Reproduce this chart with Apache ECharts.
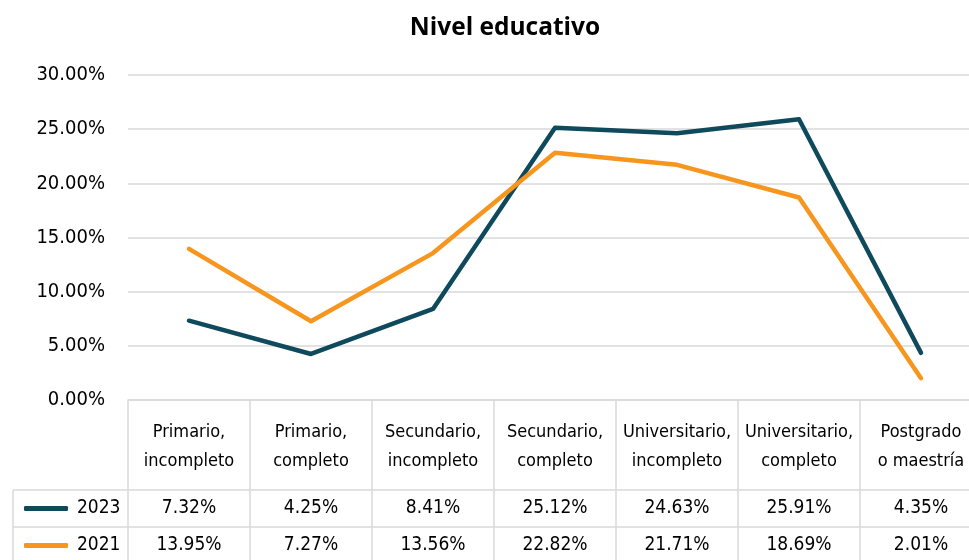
<!DOCTYPE html>
<html><head><meta charset="utf-8">
<script src="https://cdn.jsdelivr.net/npm/echarts@6/dist/echarts.min.js"></script>
<style>html,body{margin:0;padding:0;background:#fff}#c{width:969px;height:560px}</style>
</head><body><div id="c"></div>
<script>
const categories = ["Primario,\nincompleto","Primario,\ncompleto","Secundario,\nincompleto","Secundario,\ncompleto","Universitario,\nincompleto","Universitario,\ncompleto","Postgrado\no maestría"];
const seriesNames = ["2023","2021"];
const values2023 = [7.32,4.25,8.41,25.12,24.63,25.91,4.35];
const values2021 = [13.95,7.27,13.56,22.82,21.71,18.69,2.01];
const yTicks = [0,5,10,15,20,25,30];

const FONT = '"DejaVu Sans Condensed", "Liberation Sans Narrow", sans-serif';
const C23 = '#0E4A5C', C21 = '#F7961E', GRID = '#D9D9D9';
const fmt = v => v.toFixed(2) + '%';

const chart = echarts.init(document.getElementById('c'));
const GL = 128, GT = 75, GB = 400, GR = 982;
function valueAxis(margin, arr){
  return {type:'category', data:categories, gridIndex:0, position:'bottom',
    axisLine:{show:false}, axisTick:{show:false},
    axisLabel:{margin:margin, verticalAlign:'middle', fontFamily:FONT, fontSize:19, color:'#000',
      formatter:(v,i)=>fmt(arr[i])}};
}
function legendAt(i, top){
  return {orient:'vertical', left:19, top:top, itemWidth:44, itemHeight:5, icon:'roundRect',
    data:[seriesNames[i]], textStyle:{fontFamily:FONT, fontSize:19, color:'#000', padding:[0,0,0,4]}};
}
chart.setOption({
  animation:false,
  title:{text:'Nivel educativo', left:505, top:11, textAlign:'center',
    textStyle:{fontFamily:'"Open Sans", sans-serif', fontWeight:'bold', fontSize:24.5, color:'#000'}},
  grid:{left:GL, top:GT, width:GR-GL, height:GB-GT, outerBoundsMode:'none', containLabel:false},
  legend:[legendAt(0, 494), legendAt(1, 531)],
  xAxis:[
    {type:'category', data:categories, boundaryGap:true,
      axisLine:{show:true, lineStyle:{color:GRID, width:1.5}},
      axisTick:{show:true, length:160, lineStyle:{color:GRID, width:1.5}},
      axisLabel:{margin:47, verticalAlign:'middle', lineHeight:29, fontFamily:FONT, fontSize:18, color:'#000', interval:0}},
    valueAxis(108, values2023),
    valueAxis(145, values2021)
  ],
  yAxis:{type:'value', min:yTicks[0], max:yTicks[yTicks.length-1], interval:5,
    axisLine:{show:false}, axisTick:{show:false},
    splitLine:{lineStyle:{color:GRID, width:1.5}},
    axisLabel:{margin:23, fontFamily:FONT, fontSize:20, color:'#000', formatter:v=>v.toFixed(2)+'%'}},
  graphic:[
    {type:'line', shape:{x1:13, y1:490, x2:GR, y2:490}, style:{stroke:GRID, lineWidth:1.5}},
    {type:'line', shape:{x1:13, y1:527, x2:GR, y2:527}, style:{stroke:GRID, lineWidth:1.5}},
    {type:'line', shape:{x1:13, y1:490, x2:13, y2:560}, style:{stroke:GRID, lineWidth:1.5}}
  ],
  series:[
    {name:seriesNames[0], type:'line', data:values2023, symbol:'none', color:C23,
      lineStyle:{width:4.5, color:C23, cap:'round', join:'round'}},
    {name:seriesNames[1], type:'line', data:values2021, symbol:'none', color:C21,
      lineStyle:{width:4.5, color:C21, cap:'round', join:'round'}}
  ]
});
chart.setOption({title:{left:505 - 5}});
</script></body></html>
